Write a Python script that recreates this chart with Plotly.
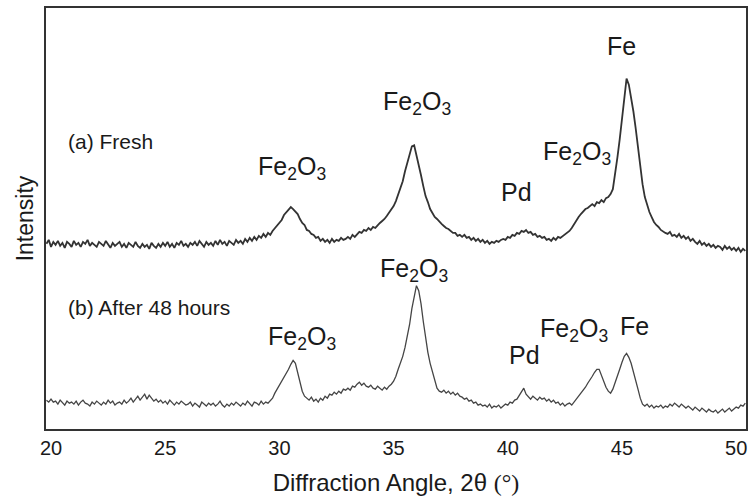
import numpy as np
import plotly.graph_objects as go

# Scan angle grid (2-theta, degrees), 0.1 deg step
two_theta = np.round(np.arange(19.8, 50.45, 0.1), 2)

# (a) Fresh catalyst - intensity (arbitrary units, offset trace)
fresh = (
    [186, 190]
    + [183, 188, 185, 189, 184, 187, 182, 188, 186, 183]   # 20
    + [189, 185, 187, 183, 188, 186, 190, 184, 187, 185]   # 21
    + [183, 188, 186, 184, 189, 185, 182, 187, 184, 186]   # 22
    + [188, 183, 186, 182, 187, 185, 183, 188, 184, 182]   # 23
    + [186, 183, 185, 181, 187, 184, 182, 186, 183, 187]   # 24
    + [184, 188, 183, 186, 182, 187, 185, 189, 184, 186]   # 25
    + [183, 187, 185, 188, 184, 189, 186, 183, 188, 185]   # 26
    + [187, 184, 189, 185, 190, 186, 188, 184, 189, 187]   # 27
    + [185, 190, 187, 189, 186, 191, 188, 192, 189, 193]   # 28
    + [190, 194, 192, 196, 193, 197, 195, 199, 202, 204]   # 29
    + [207, 210, 215, 218, 221, 223, 221, 219, 216, 211]   # 30
    + [207, 205, 200, 199, 196, 195, 192, 193, 189, 191]   # 31
    + [188, 190, 187, 191, 188, 190, 189, 192, 190, 191]   # 32
    + [193, 191, 195, 193, 196, 198, 197, 200, 199, 202]   # 33
    + [200, 203, 202, 205, 207, 209, 211, 214, 217, 220]   # 34
    + [224, 229, 235, 241, 249, 259, 268, 277, 284, 285]   # 35
    + [276, 266, 255, 244, 234, 228, 221, 217, 213, 211]   # 36
    + [208, 206, 204, 202, 201, 199, 197, 197, 194, 195]   # 37
    + [193, 195, 192, 193, 190, 192, 189, 191, 188, 190]   # 38
    + [187, 189, 186, 188, 187, 189, 188, 190, 191, 190]   # 39
    + [193, 192, 195, 194, 197, 196, 199, 198, 200, 197]   # 40
    + [198, 195, 196, 193, 194, 192, 193, 190, 191, 189]   # 41
    + [192, 190, 193, 192, 194, 195, 197, 199, 202, 206]   # 42
    + [209, 213, 216, 219, 221, 222, 224, 226, 224, 228]   # 43
    + [227, 230, 228, 232, 233, 236, 241, 255, 273, 291]   # 44
    + [312, 333, 352, 346, 333, 319, 302, 283, 263, 246]   # 45
    + [233, 224, 218, 213, 208, 205, 203, 200, 198, 197]   # 46
    + [196, 198, 194, 195, 193, 196, 192, 194, 191, 193]   # 47
    + [189, 191, 188, 186, 189, 185, 187, 184, 186, 183]   # 48
    + [185, 182, 184, 183, 180, 184, 181, 183, 180, 182]   # 49
    + [179, 182, 178, 181, 179]                            # 50
)

# (b) After 48 hours - intensity (arbitrary units)
aged = (
    [29, 27]
    + [30, 27, 28, 25, 29, 26, 24, 28, 26, 27]   # 20
    + [25, 28, 24, 27, 29, 26, 25, 23, 27, 25]   # 21
    + [28, 26, 24, 27, 25, 29, 26, 28, 24, 26]   # 22
    + [27, 25, 29, 26, 28, 31, 27, 30, 33, 29]   # 23
    + [32, 35, 30, 34, 31, 28, 30, 27, 29, 26]   # 24
    + [28, 25, 29, 26, 24, 27, 25, 28, 26, 24]   # 25
    + [25, 27, 23, 26, 24, 22, 27, 25, 23, 26]   # 26
    + [24, 26, 23, 25, 28, 24, 22, 25, 23, 26]   # 27
    + [24, 27, 25, 23, 26, 24, 28, 25, 23, 27]   # 28
    + [26, 24, 28, 25, 27, 26, 29, 31, 36, 40]   # 29
    + [43, 48, 52, 56, 60, 65, 69, 66, 56, 46]   # 30
    + [38, 33, 31, 29, 32, 28, 30, 27, 31, 29]   # 31
    + [33, 31, 35, 34, 37, 35, 38, 36, 40, 39]   # 32
    + [41, 39, 43, 42, 45, 47, 44, 46, 43, 42]   # 33
    + [44, 41, 40, 43, 41, 39, 42, 40, 43, 45]   # 34
    + [48, 53, 60, 66, 73, 82, 93, 105, 121, 134]   # 35
    + [144, 139, 126, 108, 90, 77, 66, 57, 49, 41]  # 36
    + [38, 37, 39, 36, 38, 35, 37, 34, 36, 33]   # 37
    + [32, 30, 31, 28, 29, 26, 27, 24, 25, 23]   # 38
    + [24, 22, 25, 21, 23, 22, 24, 21, 23, 25]   # 39
    + [24, 27, 26, 29, 30, 34, 38, 41, 35, 32]   # 40
    + [30, 33, 31, 29, 32, 30, 31, 28, 30, 27]   # 41
    + [29, 26, 27, 24, 26, 23, 25, 26, 24, 27]   # 42
    + [29, 32, 35, 38, 42, 46, 49, 53, 57, 60]   # 43
    + [60, 54, 47, 42, 38, 36, 40, 46, 53, 60]   # 44
    + [67, 73, 76, 72, 66, 58, 49, 40, 31, 25]   # 45
    + [23, 25, 22, 24, 21, 23, 22, 24, 21, 23]   # 46
    + [22, 25, 23, 26, 24, 22, 25, 23, 21, 23]   # 47
    + [21, 19, 22, 20, 18, 21, 19, 17, 20, 18]   # 48
    + [17, 19, 16, 18, 20, 17, 19, 21, 18, 20]   # 49
    + [22, 21, 24, 23, 26]                       # 50
)

x_ticks = [20, 25, 30, 35, 40, 45, 50]

# Peak / sample labels
label_text = ["(a) Fresh", "Fe<sub>2</sub>O<sub>3</sub>", "Fe<sub>2</sub>O<sub>3</sub>", "Pd",
              "Fe<sub>2</sub>O<sub>3</sub>", "Fe",
              "(b) After 48 hours", "Fe<sub>2</sub>O<sub>3</sub>", "Fe<sub>2</sub>O<sub>3</sub>", "Pd",
              "Fe<sub>2</sub>O<sub>3</sub>", "Fe"]
label_x = [20.66, 30.55, 36.02, 40.4, 43.03, 45.0,
           20.66, 31.0, 35.89, 40.71, 42.9, 45.53]
label_y = [289, 262, 328, 238, 277, 385,
           122, 91, 160, 74, 99, 103]
label_anchor = ["left", "center", "center", "center", "center", "center",
                "left", "center", "center", "center", "center", "center"]

FONT = "Arial, 'Liberation Sans', Helvetica, sans-serif"

fig = go.Figure()
fig.add_trace(go.Scatter(x=two_theta, y=fresh, mode="lines",
                         line=dict(color="#333333", width=1.8), showlegend=False))
fig.add_trace(go.Scatter(x=two_theta, y=aged, mode="lines",
                         line=dict(color="#454545", width=1.3), showlegend=False))

for t, x, y, a in zip(label_text, label_x, label_y, label_anchor):
    is_sample = t.startswith("(")
    fig.add_annotation(x=x, y=y, text=t, showarrow=False, xanchor=a, yanchor="middle",
                       font=dict(family=FONT, size=21 if is_sample else 25, color="#1a1a1a"))

fig.update_layout(
    width=754, height=500,
    margin=dict(l=46, r=8, t=6, b=71),
    paper_bgcolor="white", plot_bgcolor="white",
    font=dict(family=FONT, color="#1a1a1a"),
    xaxis=dict(range=[19.78, 50.43], tickvals=x_ticks, ticks="", showgrid=False,
               zeroline=False, showline=True, mirror=True, linecolor="#333333", linewidth=1.5,
               tickfont=dict(size=20, color="#1a1a1a"),
               title=dict(text="Diffraction Angle, 2θ <span style='font-family:\"Liberation Serif\", \"Times New Roman\", serif'>(°)</span>",
                          font=dict(size=24), standoff=16)),
    yaxis=dict(range=[0, 423], showticklabels=False, ticks="", showgrid=False,
               zeroline=False, showline=True, mirror=True, linecolor="#333333", linewidth=1.5,
               title=dict(text="Intensity", font=dict(size=23), standoff=4)),
)

fig.write_html("out.html", config={"displayModeBar": False},
               post_script="document.body.style.margin='0';")
